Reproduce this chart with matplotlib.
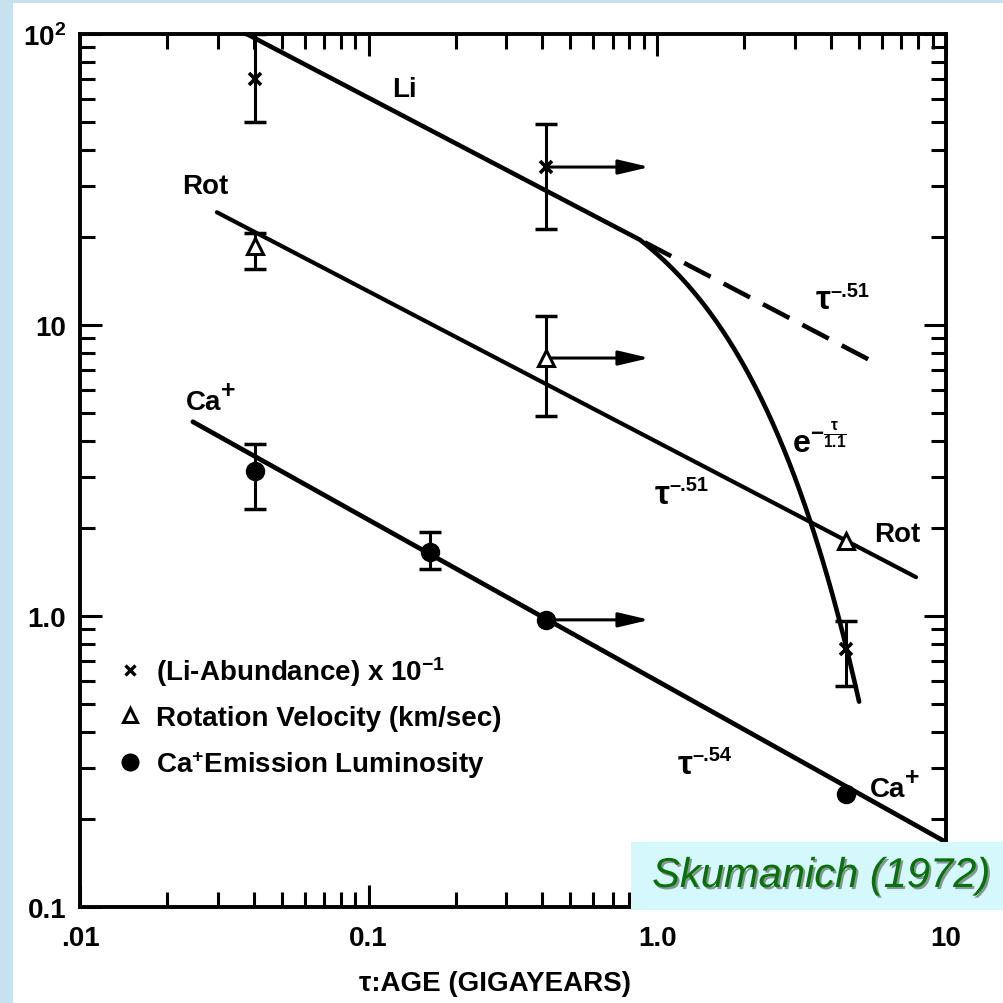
import numpy as np
import matplotlib
matplotlib.use("Agg")
import matplotlib.pyplot as plt
from matplotlib.lines import Line2D
from matplotlib.patches import Rectangle
import matplotlib.patheffects as pe
from matplotlib.ticker import FixedLocator, FixedFormatter, LogLocator, NullFormatter

plt.rcParams['font.family'] = ['Liberation Sans', 'DejaVu Sans']
plt.rcParams['font.weight'] = 'bold'
plt.rcParams['mathtext.default'] = 'regular'

# ---------------- data ----------------
# ages in Gyr: Pleiades, Ursa Major, Hyades, Sun
li_age = [0.0405, 0.41, 4.5]
li_val = [70.0, 34.9, 0.77]
li_lo = [49.9, 21.4, 0.574]
li_hi = [100.0, 49.0, 0.96]

rot_age = [0.0405, 0.41, 4.5]
rot_val = [18.7, 7.7, 1.81]
rot_err_age = [0.0405, 0.41]
rot_err_val = [18.7, 7.7]
rot_lo = [15.6, 4.86]
rot_hi = [20.7, 10.7]

ca_age = [0.0405, 0.163, 0.41, 4.5]
ca_val = [3.15, 1.66, 0.97, 0.244]
ca_err_age = [0.0405, 0.163]
ca_err_val = [3.15, 1.66]
ca_lo = [2.33, 1.45]
ca_hi = [3.9, 1.95]

# Hyades lower-limit arrows
arrow_from = 0.41
arrow_to = 0.94
arrow_vals = [34.9, 7.7, 0.97]

# fitted lines: end points (age, value)
li_fit_age = [0.0378, 5.77]
li_fit_val = [100.0, 7.35]
li_break_age = 0.87      # where solid power law turns into the exponential
li_exp_end = 5.0
li_exp_scale = 1.13      # e-folding time (Gyr)

rot_fit_age = [0.0298, 7.87]
rot_fit_val = [24.4, 1.36]

ca_fit_age = [0.0246, 10.0]
ca_fit_val = [4.65, 0.167]

xticks = [0.01, 0.1, 1.0, 10.0]
xticklabels = ['.01', '0.1', '1.0', '10']
yticks = [0.1, 1.0, 10.0, 100.0]
yticklabels = ['0.1', '1.0', '10', r'$10^2$']


def powerlaw(ages, vals, t):
    t = np.asarray(t, dtype=float)
    s = np.log(vals[1] / vals[0]) / np.log(ages[1] / ages[0])
    return vals[0] * (t / ages[0]) ** s


W = 1004.0
fig = plt.figure(figsize=(10.04, 10.04), dpi=100)
fig.patch.set_facecolor('#c8e1ef')
fig.add_artist(Rectangle((13 / W, 0), 1 - 13 / W, 1 - 4 / W, transform=fig.transFigure,
                         facecolor='white', edgecolor='none', zorder=-10))

ax = fig.add_axes([80 / W, 1 - 908 / W, 866 / W, 873 / W])
ax.set_xscale('log')
ax.set_yscale('log')
ax.set_xlim(0.01, 10)
ax.set_ylim(0.1, 100)

FS = 20
lw_fit = 3.0

# Li: solid power law, then exponential; dashed continuation of power law
t_a = np.geomspace(li_fit_age[0], li_break_age, 60)
v_a = powerlaw(li_fit_age, li_fit_val, t_a)
t_b = np.linspace(li_break_age, li_exp_end, 200)
v_b = powerlaw(li_fit_age, li_fit_val, li_break_age) * np.exp(-(t_b - li_break_age) / li_exp_scale)
ax.plot(np.concatenate([t_a, t_b]), np.concatenate([v_a, v_b]), color='black', lw=3.3,
        solid_capstyle='round', clip_on=True)
t_d = np.geomspace(li_break_age * 1.04, li_fit_age[1], 50)
ax.plot(t_d, powerlaw(li_fit_age, li_fit_val, t_d), color='black', lw=3.3,
        ls=(0, (6.5, 3.2)), dash_capstyle='butt')

t_r = np.geomspace(rot_fit_age[0], rot_fit_age[1], 50)
ax.plot(t_r, powerlaw(rot_fit_age, rot_fit_val, t_r), color='black', lw=lw_fit,
        solid_capstyle='round')
t_c = np.geomspace(ca_fit_age[0], ca_fit_age[1], 50)
ax.plot(t_c, powerlaw(ca_fit_age, ca_fit_val, t_c), color='black', lw=lw_fit + 0.4,
        solid_capstyle='round')

# error bars
li_yerr = [np.array(li_val) - np.array(li_lo), np.array(li_hi) - np.array(li_val)]
ax.errorbar(li_age, li_val, yerr=li_yerr, fmt='none', ecolor='black', elinewidth=2.2,
            capsize=8, capthick=2.5)
rot_yerr = [np.array(rot_err_val) - np.array(rot_lo), np.array(rot_hi) - np.array(rot_err_val)]
ax.errorbar(rot_err_age, rot_err_val, yerr=rot_yerr, fmt='none', ecolor='black',
            elinewidth=2.2, capsize=8, capthick=2.5)
ca_yerr = [np.array(ca_err_val) - np.array(ca_lo), np.array(ca_hi) - np.array(ca_err_val)]
ax.errorbar(ca_err_age, ca_err_val, yerr=ca_yerr, fmt='none', ecolor='black',
            elinewidth=2.2, capsize=8, capthick=2.5)

# arrows (lower limits)
for v in arrow_vals:
    ax.annotate('', xy=(arrow_to, v), xytext=(arrow_from, v),
                arrowprops=dict(arrowstyle='-|>,head_length=0.85,head_width=0.2',
                                lw=2.2, color='black', shrinkA=0, shrinkB=0,
                                mutation_scale=22))

# markers
ax.plot(li_age, li_val, ls='none', marker='x', ms=8, mew=2.6, color='black', zorder=5)
ax.plot(rot_age, rot_val, ls='none', marker='^', ms=11, mew=2.2, mfc='white',
        mec='black', zorder=5)
ax.plot(ca_age, ca_val, ls='none', marker='o', ms=13, color='black', zorder=5)


def sup_label(x, y, base, sup, fs=FS, sfs=None, rise=0.55, ha='center'):
    t = ax.text(x, y, base, fontsize=fs, ha=ha, va='center')
    ax.annotate(sup, xy=(1.0, rise), xycoords=t, fontsize=sfs or fs * 0.72,
                ha='left', va='bottom')
    return t


# curve labels
ax.text(0.133, 64.7, 'Li', fontsize=FS, ha='center', va='center')
ax.text(0.0271, 30.0, 'Rot', fontsize=FS, ha='center', va='center')
sup_label(0.0268, 5.45, 'Ca', '+', sfs=FS * 0.9, rise=0.5)
sup_label(3.75, 12.2, 'τ', '\u2013.51', fs=FS + 4, sfs=FS * 0.72, rise=0.5)
ax.text(3.65, 4.0, r'$e^{-\frac{τ}{1.1}}$', fontsize=FS + 3, ha='center', va='center')
sup_label(1.04, 2.62, 'τ', '\u2013.51', fs=FS + 4, sfs=FS * 0.72, rise=0.5)
ax.text(6.76, 1.91, 'Rot', fontsize=FS, ha='center', va='center')
sup_label(1.25, 0.31, 'τ', '\u2013.54', fs=FS + 4, sfs=FS * 0.72, rise=0.5)
sup_label(6.25, 0.255, 'Ca', '+', sfs=FS * 0.9, rise=0.5)

# legend
handles = [
    Line2D([], [], ls='none', marker='x', ms=7, mew=2.4, color='black'),
    Line2D([], [], ls='none', marker='^', ms=10, mew=2.2, mfc='white', mec='black'),
    Line2D([], [], ls='none', marker='o', ms=12, color='black'),
]
labels = [r'(Li-Abundance) x 10$^{-1}$', 'Rotation Velocity (km/sec)',
          'Ca$^{+}$Emission Luminosity']
ax.legend(handles, labels, loc='upper left', bbox_to_anchor=(116 / W, 1 - 655 / W),
          bbox_transform=fig.transFigure, frameon=False, fontsize=FS, borderpad=0,
          borderaxespad=0, handlelength=1.0, handletextpad=0.45, labelspacing=0.62)

# axes styling
for sp in ax.spines.values():
    sp.set_linewidth(2.8)
ax.xaxis.set_major_locator(FixedLocator(xticks))
ax.xaxis.set_major_formatter(FixedFormatter(xticklabels))
ax.yaxis.set_major_locator(FixedLocator(yticks))
ax.yaxis.set_major_formatter(FixedFormatter(yticklabels))
ax.xaxis.set_minor_locator(LogLocator(base=10, subs=np.arange(2, 10)))
ax.yaxis.set_minor_locator(LogLocator(base=10, subs=np.arange(2, 10)))
ax.xaxis.set_minor_formatter(NullFormatter())
ax.yaxis.set_minor_formatter(NullFormatter())
ax.tick_params(which='both', direction='in', top=True, right=True, width=2.2,
               labelsize=FS)
ax.tick_params(which='major', length=16)
ax.tick_params(which='minor', length=11)
ax.tick_params(axis='x', which='major', pad=13)
ax.tick_params(axis='y', which='major', pad=10)

ax.set_xlabel('τ:AGE (GIGAYEARS)', fontsize=FS, fontweight='bold')
ax.xaxis.set_label_coords((495 - 80) / 866, (908 - 971) / 873)

# inset credit box
fig.add_artist(Rectangle((631 / W, 1 - 911 / W), 373 / W, 68 / W, transform=fig.transFigure,
                         facecolor='#d4f8fb', edgecolor='none', zorder=5))
fig.text(821 / W, 1 - 877 / W, 'Skumanich (1972)', fontsize=30, style='italic',
         fontweight='normal', color='#0a700a', ha='center', va='center', zorder=6,
         path_effects=[pe.withSimplePatchShadow(offset=(1.5, -1.5),
                                                shadow_rgbFace='#444444', alpha=0.55)])

fig.savefig('out.png', dpi=100, facecolor=fig.get_facecolor())
